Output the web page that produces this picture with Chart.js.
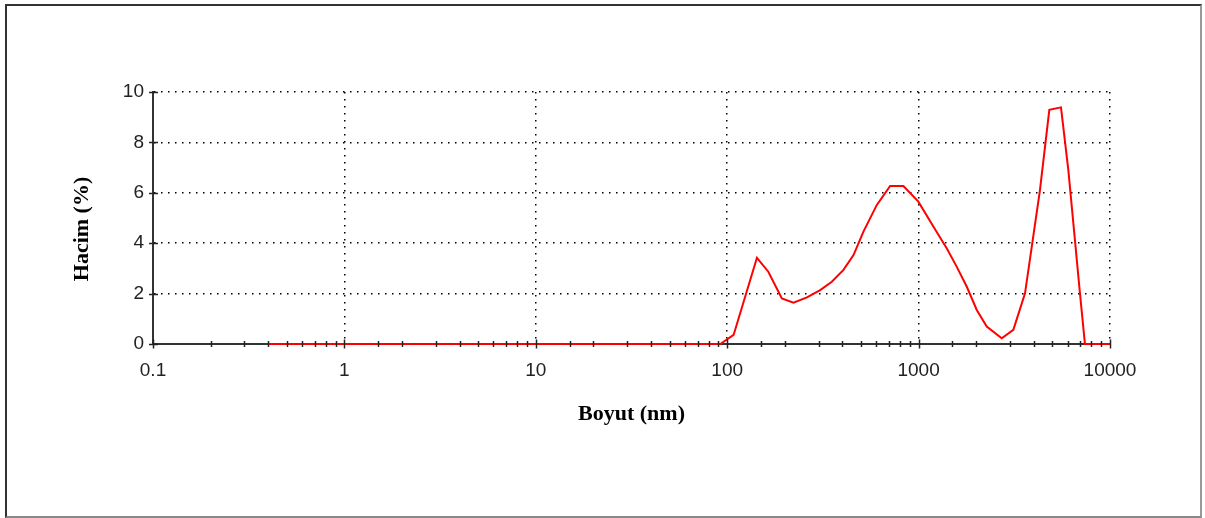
<!DOCTYPE html>
<html>
<head>
<meta charset="utf-8">
<script src="https://cdn.jsdelivr.net/npm/chart.js@4/dist/chart.umd.min.js"></script>
<style>
    html, body { margin: 0; padding: 0; background: #fff; }
    #wrap { position: relative; width: 1205px; height: 518px; }
    #frame {
        position: absolute; left: 5px; top: 4px; width: 1197px; height: 514px;
        box-sizing: border-box; border: 2px solid #333; border-right-color: #999; border-bottom-color: #888;
        pointer-events: none;
    }
</style>
</head>
<body>
<div id="wrap">
    <canvas id="psd" width="1205" height="518"></canvas>
    <div id="frame"></div>
</div>
<script>
// Data: particle size (nm) vs volume (%)
const sizes = [0.4, 92, 108, 143, 164, 193, 222, 261, 306, 352, 405, 457, 515, 605, 710, 833, 997,
    1194, 1402, 1581, 1786, 2013, 2270, 2718, 3126, 3597, 4306, 4819, 5546, 6058, 6967, 7398, 10000];
const volumes = [0, 0, 0.36, 3.42, 2.87, 1.81, 1.64, 1.85, 2.14, 2.47, 2.94, 3.53, 4.46, 5.52, 6.27, 6.27, 5.65,
    4.66, 3.80, 3.07, 2.27, 1.35, 0.69, 0.23, 0.56, 2.01, 6.11, 9.29, 9.39, 6.9, 2.01, 0, 0];

const xTickLabels = ['0.1', '1', '10', '100', '1000', '10000'];
const yTickLabels = ['0', '2', '4', '6', '8', '10'];

const points = sizes.map((s, i) => ({ x: s, y: volumes[i] }));

function isDecade(v) {
    const l = Math.log10(v);
    return Math.abs(l - Math.round(l)) < 1e-6;
}

// small tick marks that cross both axes
const crossTicks = {
    id: 'crossTicks',
    afterDatasetsDraw(chart) {
        const { ctx, scales: { x, y } } = chart;
        ctx.save();
        ctx.strokeStyle = '#222';
        ctx.lineWidth = 1.5;
        const y0 = y.getPixelForValue(0);
        x.ticks.forEach(t => {
            const px = Math.round(x.getPixelForValue(t.value)) + 0.5;
            const h = isDecade(t.value) ? 4.5 : 3;
            ctx.beginPath();
            ctx.moveTo(px, y0 - h);
            ctx.lineTo(px, y0 + h);
            ctx.stroke();
        });
        const x0 = x.getPixelForValue(0.1);
        y.ticks.forEach(t => {
            const py = Math.round(y.getPixelForValue(t.value)) + 0.5;
            ctx.beginPath();
            ctx.moveTo(x0 - 4, py);
            ctx.lineTo(x0 + 5, py);
            ctx.stroke();
        });
        ctx.restore();
    }
};

new Chart(document.getElementById('psd'), {
    type: 'line',
    data: {
        datasets: [{
            data: points,
            borderColor: '#ff0000',
            borderWidth: 2,
            pointRadius: 0,
            tension: 0,
            fill: false,
            clip: false
        }]
    },
    options: {
        responsive: false,
        animation: false,
        layout: { padding: { top: 92, right: 95, left: 0, bottom: 0 } },
        plugins: { legend: { display: false }, tooltip: { enabled: false } },
        scales: {
            x: {
                type: 'logarithmic',
                min: 0.1,
                max: 10000,
                afterFit: s => { s.height = 174; },
                grid: {
                    drawTicks: false,
                    lineWidth: 1.5,
                    color: c => (c.tick && isDecade(c.tick.value) && c.tick.value > 0.1) ? '#000' : 'transparent'
                },
                border: { display: true, color: '#333', width: 2, dash: [1.5, 5.5] },
                ticks: {
                    autoSkip: false,
                    maxRotation: 0,
                    padding: 15,
                    color: '#222',
                    font: { family: 'Liberation Sans', size: 19 },
                    callback: v => isDecade(v) ? xTickLabels[Math.round(Math.log10(v)) + 1] : ''
                },
                title: {
                    display: true,
                    text: 'Boyut (nm)',
                    color: '#000',
                    font: { family: 'Liberation Serif', size: 22, weight: 'bold' },
                    padding: { top: 0, bottom: 90 }
                }
            },
            y: {
                min: 0,
                max: 10,
                afterFit: s => { s.width = 153; },
                grid: {
                    drawTicks: false,
                    lineWidth: 1.5,
                    color: c => (c.tick && c.tick.value > 0 && c.tick.value % 2 === 0) ? '#000' : 'transparent'
                },
                border: { display: true, color: '#333', width: 2, dash: [1.5, 5.5] },
                ticks: {
                    stepSize: 1,
                    padding: 9,
                    color: '#222',
                    font: { family: 'Liberation Sans', size: 19 },
                    callback: v => v % 2 === 0 ? yTickLabels[v / 2] : ''
                },
                title: {
                    display: true,
                    // trailing spaces nudge the label down a little, as in the original
                    text: 'Hacim (%)\u00a0\u00a0\u00a0\u00a0',
                    color: '#000',
                    font: { family: 'Liberation Serif', size: 22, weight: 'bold' },
                    padding: { top: 69, bottom: 0 }
                }
            }
        }
    },
    plugins: [crossTicks]
});
</script>
</body>
</html>
